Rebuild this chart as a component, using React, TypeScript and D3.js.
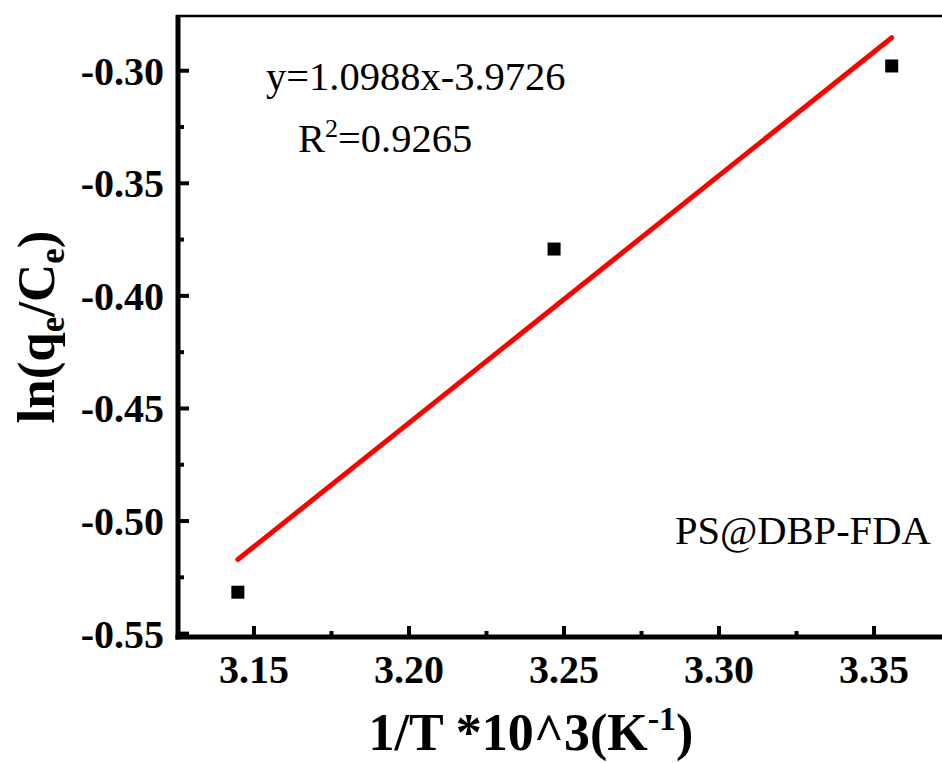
import React from "react";
import * as d3 from "d3";

const xValues = [3.1448, 3.2468, 3.3557];
const yValues = [-0.5316, -0.3792, -0.2979];
const slope = 1.0988;
const intercept = -3.9726;
const xTicks = [3.15, 3.2, 3.25, 3.3, 3.35];
const xMinor = [3.175, 3.225, 3.275, 3.325, 3.375];
const yTicks = [-0.3, -0.35, -0.4, -0.45, -0.5, -0.55];
const yMinor = [-0.325, -0.375, -0.425, -0.475, -0.525];

const W = 942;
const H = 763;
const L = 178, R = 950, T = 16, B = 637;
const serif = '"Liberation Serif", "Times New Roman", Times, "DejaVu Serif", serif';
const fs = { fontFamily: serif };

export default function App() {
  const x = d3.scaleLinear().domain([3.1255, 3.3745]).range([L, R]);
  const y = d3.scaleLinear().domain([-0.5515, -0.2757]).range([B, T]);
  const fit = d3.extent(xValues) as [number, number];
  const line = d3.line<number>().x((d) => x(d)).y((d) => y(slope * d + intercept));
  return (
    <svg width={W} height={H} style={{ position: "absolute", left: 0, top: 0, background: "#fff", fontFamily: serif }}>
      <rect x={0} y={0} width={W} height={H} fill="#fff" />
      <line x1={L - 2} x2={R} y1={T} y2={T} stroke="#000" strokeWidth={2.5} />
      <line x1={L} x2={L} y1={T - 1} y2={B + 2.5} stroke="#000" strokeWidth={5} />
      <line x1={L - 2.5} x2={R} y1={B} y2={B} stroke="#000" strokeWidth={5} />
      {xTicks.map((t) => (
        <g key={"xt" + t}>
          <line x1={x(t)} x2={x(t)} y1={B} y2={B - 11} stroke="#000" strokeWidth={4} />
          <text style={fs} x={x(t)} y={683} textAnchor="middle" fontSize={40} fontWeight="bold">{t.toFixed(2)}</text>
        </g>
      ))}
      {xMinor.map((t) => (
        <line key={"xm" + t} x1={x(t)} x2={x(t)} y1={B} y2={B - 6} stroke="#000" strokeWidth={4} />
      ))}
      {yTicks.map((t) => (
        <g key={"yt" + t}>
          <line x1={L} x2={L + 11} y1={y(t)} y2={y(t)} stroke="#000" strokeWidth={4} />
          <text style={fs} x={164} y={y(t)} dy="0.35em" textAnchor="end" fontSize={40} fontWeight="bold">{t.toFixed(2)}</text>
        </g>
      ))}
      {yMinor.map((t) => (
        <line key={"ym" + t} x1={L} x2={L + 6} y1={y(t)} y2={y(t)} stroke="#000" strokeWidth={4} />
      ))}
      <path d={line(fit) || ""} stroke="#ff0000" strokeWidth={5} fill="none" strokeLinecap="round" />
      {xValues.map((v, i) => (
        <rect key={"p" + i} x={x(v) - 6.5} y={y(yValues[i]) - 6.5} width={13} height={13} fill="#000" />
      ))}
      <text style={fs} x={266} y={90} fontSize={40.5}>y=1.0988x-3.9726</text>
      <text style={fs} x={298} y={152} fontSize={40.5}>
        R<tspan dy={-15} fontSize={26}>2</tspan><tspan dy={15}>=0.9265</tspan>
      </text>
      <text style={fs} x={675} y={544} fontSize={40.5}>PS@DBP-FDA</text>
      <text style={fs} x={531} y={750} textAnchor="middle" fontSize={52} fontWeight="bold">
        1/T *10^3(K<tspan dy={-20} fontSize={34}>-1</tspan><tspan dy={20}>)</tspan>
      </text>
      <text style={fs} transform="translate(54,327) rotate(-90)" textAnchor="middle" fontSize={53} fontWeight="bold">
        ln(q<tspan dy={10} fontSize={35}>e</tspan><tspan dy={-10}>/C</tspan><tspan dy={10} fontSize={35}>e</tspan><tspan dy={-10}>)</tspan>
      </text>
    </svg>
  );
}
